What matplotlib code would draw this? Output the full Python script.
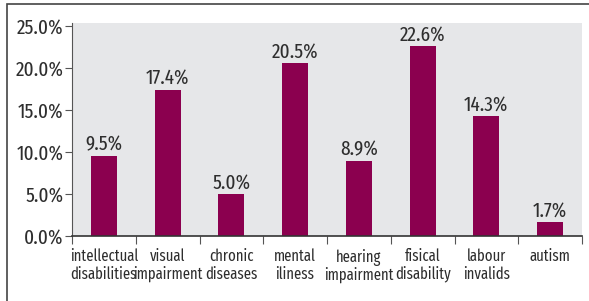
import matplotlib.pyplot as plt
import matplotlib.patches as patches
import numpy as np

categories = ['intellectual\ndisabilities', 'visual\nimpairment', 'chronic\ndiseases',
              'mental\niliness', 'hearing\nimpairment', 'fisical\ndisability',
              'labour\ninvalids', 'autism']
values = [9.5, 17.4, 5.0, 20.5, 8.9, 22.6, 14.3, 1.7]
yticks = [0, 5, 10, 15, 20, 25]

plt.rcParams['font.family'] = ['Fira Sans Extra Condensed', 'DejaVu Sans']
plt.rcParams['font.weight'] = 'normal'

txt = '#2e2e2e'
fig = plt.figure(figsize=(5.89, 3.01), dpi=100)
ax = fig.add_axes([72/589, 1-236/301, 510/589, 213/301])
ax.set_facecolor('#e6e7e9')

x = np.arange(len(values))
ax.bar(x, values, width=0.41, color='#8b004f', zorder=2)
for xi, v in zip(x, values):
    ax.annotate('%.1f%%' % v, (xi, v), xytext=(0, 1), textcoords='offset points',
                ha='center', va='bottom', fontsize=15, color=txt)

ax.set_xlim(-0.5, len(values) - 0.5)
ax.set_ylim(0, 25.3)
ax.set_yticks(yticks)
ax.set_yticklabels(['%.1f%%' % t for t in yticks], fontsize=15, color=txt)
ax.set_xticks(np.arange(len(values) + 1) - 0.5)
ax.set_xticklabels([])
ax.set_xticks(x, minor=True)
ax.set_xticklabels(categories, minor=True, fontsize=11.5, color=txt, linespacing=1.1)
ax.tick_params(axis='x', which='minor', length=0, pad=9)
ax.tick_params(axis='x', which='major', length=6, color='#555555', direction='out')
ax.tick_params(axis='y', length=5, color='#555555', pad=1)
for s in ['top', 'right']:
    ax.spines[s].set_visible(False)
ax.spines['left'].set_color('#555555')
ax.spines['bottom'].set_color('#333333')
ax.spines['bottom'].set_linewidth(1.2)

# outer frame (cropped at right and bottom)
fig.add_artist(patches.Rectangle((7/589, -0.1), 1.2, 1-4/301+0.1, transform=fig.transFigure,
                                 fill=False, edgecolor='#444444', linewidth=1.2))

fig.savefig('out.png', dpi=100)
